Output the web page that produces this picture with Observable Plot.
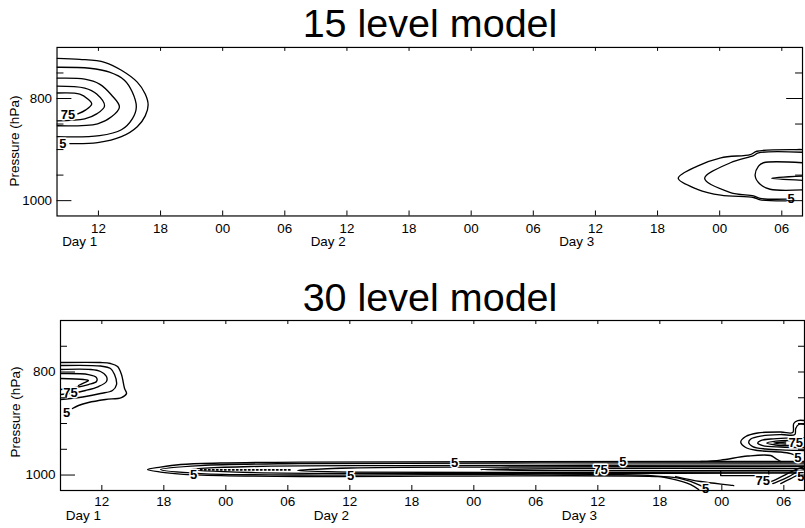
<!DOCTYPE html>
<html><head><meta charset="utf-8">
<script src="https://cdn.jsdelivr.net/npm/d3@7"></script>
<script src="https://cdn.jsdelivr.net/npm/@observablehq/plot@0.6"></script>
<style>
html,body{margin:0;padding:0;background:#fff;overflow:hidden;width:805px;height:528px;}
#wrap{position:relative;width:805px;height:528px;overflow:hidden;font-family:"Liberation Sans",Arial,Helvetica,sans-serif;color:#000;}
.title{position:absolute;left:0;width:860px;text-align:center;font-size:39.5px;line-height:39.5px;white-space:nowrap;}
.panel{position:absolute;left:0;}
.ytitle{position:absolute;font-size:13.5px;line-height:14px;white-space:nowrap;transform:translate(-50%,-50%) rotate(-90deg);}
</style></head>
<body><div id="wrap">
<div class="panel" id="p1" style="top:40px"></div>
<div class="panel" id="p2" style="top:314px"></div>
<div class="title" id="t1" style="top:4px"></div>
<div class="title" id="t2" style="top:278px"></div>
<div class="ytitle" id="y1" style="left:15px;top:141px"></div>
<div class="ytitle" id="y2" style="left:16px;top:412px"></div>
</div>
<script>
// ---- titles
const panelTitles = ["15 level model", "30 level model"];
const yAxisTitle = "Pressure (hPa)";

// ---- axes (hours counted from Day 1 00 UTC; pressure in hPa)
const hourDomain = [8, 80];
const pressureDomain = [700, 1030];
const xTicks = [12, 18, 24, 30, 36, 42, 48, 54, 60, 66, 72, 78];
const xTickLabels = ["12", "18", "00", "06", "12", "18", "00", "06", "12", "18", "00", "06"];
const dayLabels = ["Day 1", "Day 2", "Day 3"];
const dayStartHours = [8.5, 32.5, 56.5];
const yMajorTicks = [800, 1000];
const yMinorTicks = [750, 850, 900, 950];

// ---- 15 level model contours: [hour, hPa]
const lev15_left_c1 = [[8,721.4],[10.2,723.3],[12.59,729.1],[14.22,744.7],[15.75,768.0],[16.52,791.3],[16.8,812.6],[16.52,834.0],[15.75,855.3],[14.22,874.8],[11.92,886.4],[9.24,888.3]];
const lev15_left_c2 = [[8,738.8],[11.16,740.8],[13.07,748.5],[14.51,764.1],[15.27,787.4],[15.66,816.5],[15.27,839.8],[14.22,861.2],[12.11,872.8],[8,874.8]];
const lev15_left_c3 = [[8,760.2],[10.68,762.1],[12.11,771.8],[13.26,793.2],[14.03,816.5],[13.26,835.9],[11.92,849.5],[8,853.4]];
const lev15_left_c4 = [[8,775.7],[10.68,779.6],[11.83,791.3],[12.59,814.6],[11.83,830.1],[10.68,839.8],[8,843.7]];
const lev15_left_c5 = [[8,789.3],[10.2,791.3],[10.97,801.0],[11.35,810.7],[10.78,822.3],[10.01,830.1]];
const lev15_right_c1 = [[80,900],[79.42,900],[75.59,903.3],[74.96,909.7],[72.11,916.1],[69.85,932.4],[68.0,956.3],[69.85,977.7],[72.11,989.3],[75.27,993.8],[75.91,998.4],[78.46,1000.4]];
const lev15_right_c2 = [[80,905.2],[75.75,906.4],[75.27,911.7],[73.04,925.8],[70.55,956.3],[73.04,984.1],[75.27,990.7],[75.91,995.7],[78.46,997.1]];
const lev15_right_c3 = [[80,925.8],[76.23,925.8],[75.75,932.4],[75.43,951.8],[75.91,968],[76.87,977.7],[80,979]];
const lev15_right_c4 = [[80,951.8],[77.0,956.3],[80,960.2]];
const lev15_labelText = ["75", "5", "5"];
const lev15_labelHour = [9.05, 8.57, 78.9];
const lev15_labelPressure = [832, 888, 997];

// ---- 30 level model contours: [hour, hPa]
const lev30_left_c1 = [[8,781.6],[11.87,781.6],[12.84,783.5],[13.52,789.3],[13.90,804.9],[14.20,832.0],[14.39,841.7],[13.90,849.5],[12.36,853.4],[10.71,859.2],[9.74,865.0],[9.16,870.9]];
const lev30_left_c2 = [[8,787.4],[11.87,788.4],[12.84,793.2],[13.23,804.9],[13.42,824.3],[13.03,835.9],[11.87,841.7],[10.42,847.6],[8.97,851.5],[8,853.4]];
const lev30_left_c3 = [[8,795.1],[10.90,795.1],[11.87,799.0],[12.45,808.7],[12.45,818.4],[11.68,828.2],[10.42,835.9],[8.97,841.7],[8,843.7]];
const lev30_left_c4 = [[8,802.9],[10.71,804.9],[11.48,810.7],[11.48,818.4],[10.71,824.3],[9.45,830.1],[8,834.0]];
const lev30_left_c5 = [[8,812.6],[10.23,814.6],[10.71,816.5],[10.32,820.4],[9.74,826.2]];
const lev30_strip_s1 = [[80,973.8],[69.96,973.8],[31.23,974.8],[23.49,976.7],[19.62,979.6],[17.68,984.5],[16.42,989.3],[17.68,994.2],[19.62,998.1],[23.49,1001.0],[31.23,1002.9],[66.08,1002.9],[68.02,1006.8],[69.96,1020.4],[70.54,1028.2]];
const lev30_strip_s2 = [[80,976.7],[31.23,977.7],[21.55,981.6],[17.68,989.3],[21.55,997.1],[31.23,1000.0],[65.12,1001.0],[67.05,1006.8],[68.99,1018.4],[69.76,1028.2]];
const lev30_strip_s3 = [[80,980.6],[40.91,981.6],[26.39,983.5],[20.58,989.3],[26.39,995.1],[40.91,997.1],[80,996.1]];
const lev30_strip_s4 = [[80,983.5],[50.59,984.5],[36.07,986.4],[30.94,991.3],[36.07,994.2],[50.59,995.1],[80,994.2]];
const lev30_strip_s5 = [[80,987.4],[56.40,987.4],[48.66,989.3],[56.40,991.3],[80,991.3]];
const lev30_bulge = [[69.96,973.8],[71.89,970.9],[74.51,963.1],[76.73,962.1],[77.22,968.0],[77.70,973.8]];
const lev30_fan_r1 = [[80,983.5],[79.15,989.3],[78.18,999.0],[77.22,1008.7],[76.73,1012.6]];
const lev30_fan_r2 = [[80,989.3],[79.35,993.2],[78.48,1002.9],[77.41,1012.6],[76.93,1016.5]];
const lev30_fan_r3 = [[80,995.1],[79.44,999.0],[78.67,1006.8],[77.70,1016.5]];
const lev30_fan_l = [[67.54,1002.9],[69.96,1012.6],[73.15,1020.4]];
const lev30_nose_n1 = [[80,894.2],[79.35,894.2],[78.96,900.0],[78.86,917.5],[77.70,916.5],[75.47,918.4],[74.31,925.2],[73.83,935.9],[74.31,946.6],[75.47,952.4],[77.70,955.3],[78.67,958.3],[79.15,962.1]];
const lev30_nose_n2 = [[80,901.9],[79.44,901.9],[79.15,909.7],[79.06,921.4],[77.70,921.4],[75.76,924.3],[74.80,930.1],[74.60,936.9],[74.99,944.7],[76.25,949.5],[78.18,951.5],[80,952.4]];
const lev30_nose_n3 = [[80,927.2],[78.18,928.2],[76.73,930.1],[75.76,933.0],[75.47,937.9],[75.96,942.7],[77.70,945.6],[80,946.6]];
const lev30_nose_n4 = [[78.67,933.0],[77.22,934.0],[76.35,937.9],[77.22,941.7],[78.67,942.7]];
const lev30_nose_n5 = [[78.18,935.9],[77.02,937.9],[78.18,939.8]];
const lev30_box = [[71.89,991.3],[71.89,1001.0],[76.54,1001.0],[76.54,991.3]];
const lev30_dotted = [[21.55,990],[30.27,990]];
const lev30_labelText = ["5", "75", "5", "5", "5", "75", "5", "75", "5", "75", "5", "5"];
const lev30_labelHour = [8.58, 8.97, 20.87, 36.07, 46.14, 60.27, 62.41, 79.15, 79.35, 75.96, 79.64, 70.44];
const lev30_labelPressure = [878.6, 839.8, 999.0, 1001.0, 975.7, 989.3, 973.8, 936.5, 966.0, 1010.7, 1002.9, 1026.2];

// ---- helpers
const toRows = (named) => Object.entries(named).flatMap(([id, pts]) => pts.map(([h, p]) => ({id, h, p})));
const labelRows = (t, h, p) => t.map((d, i) => ({t: d, h: h[i], p: p[i]}));
const FONT = '"Liberation Sans", Arial, Helvetica, sans-serif';

document.getElementById("t1").textContent = panelTitles[0];
document.getElementById("t2").textContent = panelTitles[1];
document.getElementById("y1").textContent = yAxisTitle;
document.getElementById("y2").textContent = yAxisTitle;

function panel(cfg) {
  const fw = cfg.width - cfg.ml - cfg.mr, fh = cfg.height - cfg.mt - cfg.mb;
  const line = {x: "h", y: "p", z: "id", stroke: "#000", strokeWidth: 1.35, clip: true, strokeLinejoin: "round"};
  return Plot.plot({
    width: cfg.width, height: cfg.height,
    marginLeft: cfg.ml, marginRight: cfg.mr, marginTop: cfg.mt, marginBottom: cfg.mb,
    x: {domain: hourDomain, axis: null},
    y: {domain: pressureDomain, reverse: true, axis: null},
    style: {fontFamily: FONT, fontSize: "13.5px", color: "#000", background: "#fff", overflow: "visible"},
    marks: [
      Plot.line(toRows(cfg.smooth), {...line, curve: "catmull-rom"}),
      Plot.line(toRows(cfg.straight || {}), {...line, curve: "linear"}),
      Plot.line(toRows(cfg.dotted || {}), {...line, strokeWidth: 1.6, strokeDasharray: "1.5,2.5"}),
      Plot.text(cfg.labels, {x: "h", y: "p", text: "t", fontWeight: "bold", fontSize: 13, fill: "#000", stroke: "#fff", strokeWidth: 3, paintOrder: "stroke", fontFamily: FONT}),
      Plot.frame({stroke: "#000", strokeWidth: 1.2}),
      Plot.tickX(xTicks, {x: d => d, insetTop: fh - 5, stroke: "#000"}),
      Plot.tickX(xTicks, {x: d => d, insetBottom: fh - 4, stroke: "#000"}),
      Plot.tickY(yMajorTicks, {y: d => d, insetRight: fw - 15, stroke: "#000"}),
      Plot.tickY(yMinorTicks, {y: d => d, insetRight: fw - 7, stroke: "#000"}),
      Plot.tickY(yMajorTicks, {y: d => d, insetLeft: fw - cfg.rightMajor, stroke: "#000"}),
      Plot.tickY(yMinorTicks, {y: d => d, insetLeft: fw - cfg.rightMinor, stroke: "#000"}),
      Plot.axisX(xTicks, {tickSize: 0, tickPadding: cfg.xPad, tickFormat: d => xTickLabels[xTicks.indexOf(d)], fontSize: 13.5, label: null}),
      Plot.axisY(yMajorTicks, {tickSize: 0, tickPadding: 5, tickFormat: d => String(d), fontSize: 13.5, label: null}),
      Plot.text(dayLabels, {x: (d, i) => dayStartHours[i], frameAnchor: "bottom", dy: cfg.dayDy, textAnchor: "start", fontSize: 13.5})
    ]
  });
}

document.getElementById("p1").append(panel({
  width: 812, height: 222, ml: 57, mr: 3, mt: 7, mb: 45, xPad: 8, dayDy: 30,
  rightMajor: 16, rightMinor: 7,
  smooth: {lev15_left_c1, lev15_left_c2, lev15_left_c3, lev15_left_c4, lev15_left_c5,
           lev15_right_c1, lev15_right_c2, lev15_right_c3, lev15_right_c4},
  labels: labelRows(lev15_labelText, lev15_labelHour, lev15_labelPressure)
}));

document.getElementById("p2").append(panel({
  width: 805, height: 214, ml: 60, mr: 1, mt: 6, mb: 38, xPad: 6, dayDy: 29,
  rightMajor: 6, rightMinor: 6,
  smooth: {lev30_left_c1, lev30_left_c2, lev30_left_c3, lev30_left_c4, lev30_left_c5,
           lev30_strip_s1, lev30_strip_s2, lev30_strip_s3, lev30_strip_s4, lev30_strip_s5,
           lev30_bulge, lev30_fan_r1, lev30_fan_r2, lev30_fan_r3, lev30_fan_l,
           lev30_nose_n1, lev30_nose_n2, lev30_nose_n3, lev30_nose_n4, lev30_nose_n5},
  straight: {lev30_box},
  dotted: {lev30_dotted},
  labels: labelRows(lev30_labelText, lev30_labelHour, lev30_labelPressure)
}));
</script>
</body></html>
